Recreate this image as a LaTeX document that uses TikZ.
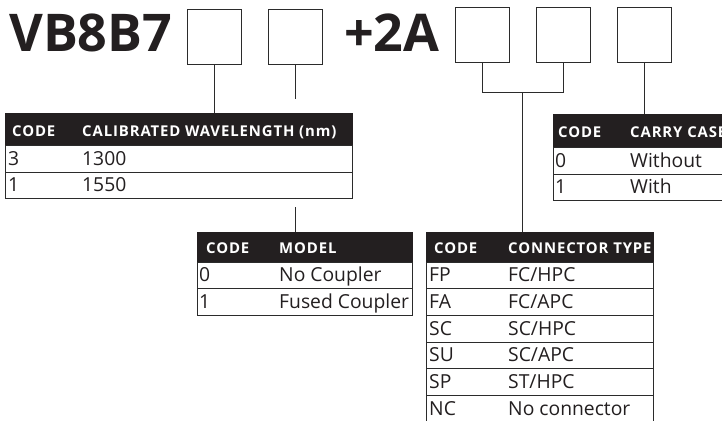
\documentclass[tikz,border=0pt]{standalone}
\usepackage{fontspec}
\setmainfont{Open Sans}
\newfontfamily\hdfont{Open Sans}[LetterSpace=6]
\definecolor{hdblack}{HTML}{231F20}
\definecolor{linec}{HTML}{2B2B2B}
\begin{document}
\begin{tikzpicture}[x=1pt,y=-1pt,
  codebox/.style={draw=linec, line width=1pt, minimum width=54pt, minimum height=54pt, inner sep=0pt},
  hd/.style={fill=hdblack, draw=hdblack, inner sep=0pt, anchor=north west},
  rowbox/.style={draw=linec, line width=0.9pt, inner sep=0pt, anchor=north west},
  hdtxt/.style={text=white, font=\hdfont\bfseries\fontsize{14.9}{16}\selectfont, anchor=west, inner sep=0pt, text height=10.5pt, text depth=0pt},
  rtxt/.style={text=hdblack, font=\fontsize{19.3}{22}\selectfont, anchor=west, inner sep=0pt, text height=13.6pt, text depth=0pt},
  ttl/.style={text=hdblack, font=\bfseries\fontsize{52}{60}\selectfont, anchor=base west, inner sep=0pt},
  conn/.style={draw=linec, line width=0.9pt}]
\useasboundingbox (0,0) rectangle (722,420);
\fill[white] (0,0) rectangle (722,420);

% title
\node[ttl] (t1) at (9,52) {VB8B7};
\node[ttl] (t2) at (344,52) {+2A};

% code boxes
\node[codebox] (b1) at (214.3,37) {};
\node[codebox] (b2) at (295.7,37) {};
\node[codebox] (b3) at (482.5,35) {};
\node[codebox] (b4) at (563.7,35) {};
\node[codebox] (b5) at (644.7,35) {};

% wavelength table
\node[hd, minimum width=347pt, minimum height=32pt] (wlh) at (5,113) {};
\node[rowbox, minimum width=347pt, minimum height=27pt] (wl1) at (5,145) {};
\node[rowbox, minimum width=347pt, minimum height=26pt] (wl2) at (5,172) {};
\node[hdtxt] (wlhA) at (12,131) {CODE};
\node[hdtxt] (wlhB) at (82,131) {CALIBRATED WAVELENGTH (nm)};
\node[rtxt] (wl1A) at (8,158.5) {3};
\node[rtxt] (wl1B) at (82,158.5) {1300};
\node[rtxt] (wl2A) at (8,185) {1};
\node[rtxt] (wl2B) at (82,185) {1550};

% carry case table
\node[hd, minimum width=190pt, minimum height=33pt] (cah) at (553,114) {};
\node[rowbox, minimum width=190pt, minimum height=27pt] (ca1) at (553,147) {};
\node[rowbox, minimum width=190pt, minimum height=26pt] (ca2) at (553,174) {};
\node[hdtxt] (cahA) at (558,132.5) {CODE};
\node[hdtxt] (cahB) at (630,132.5) {CARRY CASE};
\node[rtxt] (ca1A) at (555,160.5) {0};
\node[rtxt] (ca1B) at (630,160.5) {Without};
\node[rtxt] (ca2A) at (555,187) {1};
\node[rtxt] (ca2B) at (630,187) {With};

% model table
\node[hd, minimum width=215pt, minimum height=30pt] (mh) at (197,232) {};
\node[rowbox, minimum width=215pt, minimum height=26pt] (m1) at (197,262) {};
\node[rowbox, minimum width=215pt, minimum height=27pt] (m2) at (197,288) {};
\node[hdtxt] (mhA) at (206,248) {CODE};
\node[hdtxt] (mhB) at (279,248) {MODEL};
\node[rtxt] (m1A) at (199,275) {0};
\node[rtxt] (m1B) at (279,275) {No Coupler};
\node[rtxt] (m2A) at (199,301.5) {1};
\node[rtxt] (m2B) at (279,301.5) {Fused Coupler};

% connector table
\node[hd, minimum width=227pt, minimum height=30pt] (ch) at (426,232) {};
\node[rowbox, minimum width=227pt, minimum height=26pt] (c1) at (426,262) {};
\node[rowbox, minimum width=227pt, minimum height=27pt] (c2) at (426,288) {};
\node[rowbox, minimum width=227pt, minimum height=27pt] (c3) at (426,315) {};
\node[rowbox, minimum width=227pt, minimum height=26pt] (c4) at (426,342) {};
\node[rowbox, minimum width=227pt, minimum height=27pt] (c5) at (426,368) {};
\node[rowbox, minimum width=227pt, minimum height=27pt] (c6) at (426,395) {};
\node[hdtxt] (chA) at (434,248) {CODE};
\node[hdtxt] (chB) at (508,248) {CONNECTOR TYPE};
\node[rtxt] (c1A) at (429,275) {FP};
\node[rtxt] (c1B) at (508,275) {FC/HPC};
\node[rtxt] (c2A) at (429,301.5) {FA};
\node[rtxt] (c2B) at (508,301.5) {FC/APC};
\node[rtxt] (c3A) at (429,328.5) {SC};
\node[rtxt] (c3B) at (508,328.5) {SC/HPC};
\node[rtxt] (c4A) at (429,355) {SU};
\node[rtxt] (c4B) at (508,355) {SC/APC};
\node[rtxt] (c5A) at (429,381.5) {SP};
\node[rtxt] (c5B) at (508,381.5) {ST/HPC};
\node[rtxt] (c6A) at (429,408.5) {NC};
\node[rtxt] (c6B) at (508,408.5) {No connector};

% connectors
\coordinate (b2end) at (295.7,99);
\coordinate (mtop) at (295.7,207);
\coordinate (brk) at (522.7,92.7);
\draw[conn] (b1.south) -- (b1.south |- wlh.north);
\draw[conn] (b2.south) -- (b2end);
\draw[conn] (mtop) -- (mtop |- mh.north);
\draw[conn] (b3.south) |- (b4.south |- brk) -- (b4.south);
\draw[conn] (brk) -- (brk |- ch.north);
\draw[conn] (b5.south) -- (b5.south |- cah.north);
\end{tikzpicture}
\end{document}
